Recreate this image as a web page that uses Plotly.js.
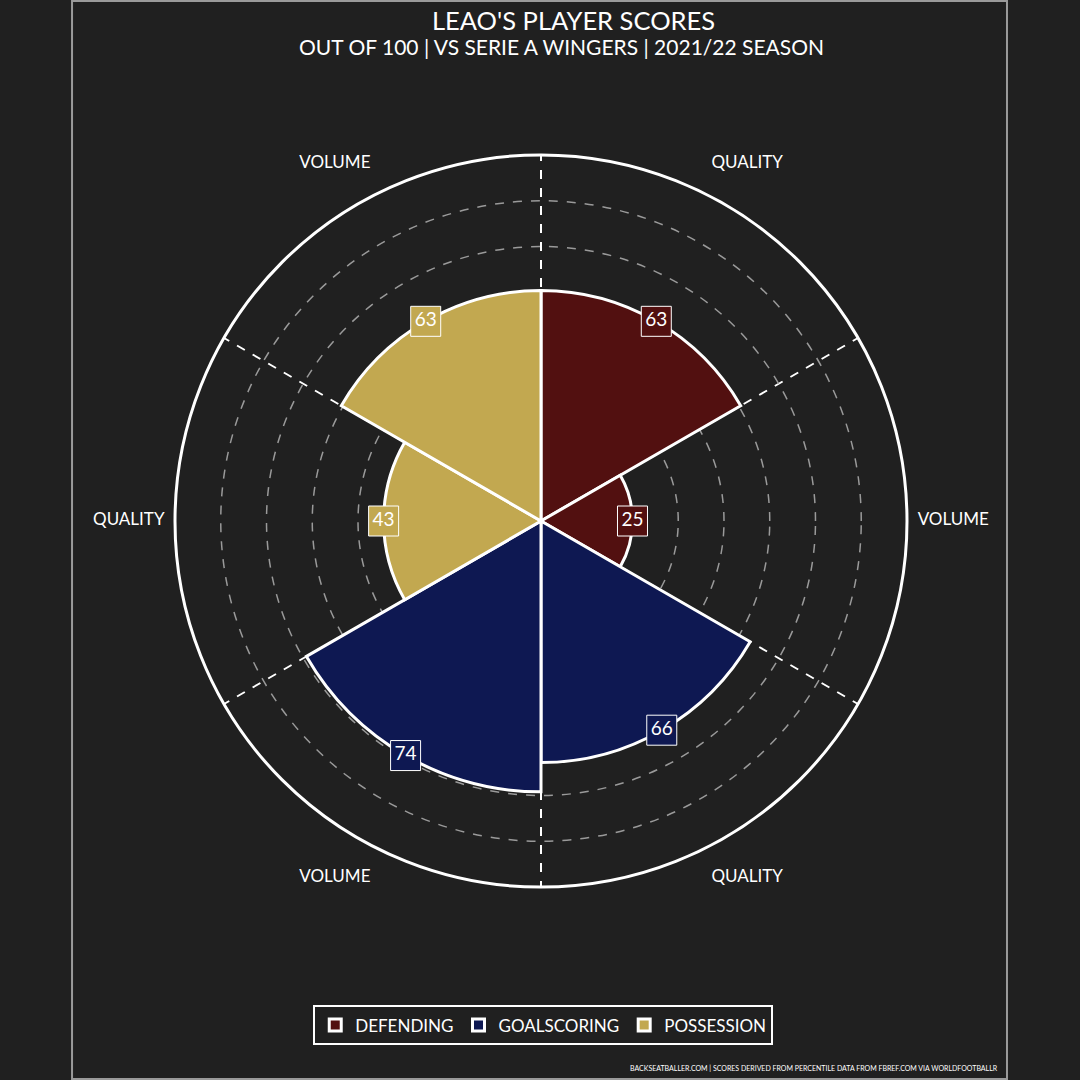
<!DOCTYPE html>
<html>
<head>
<meta charset="utf-8">
<script src="https://cdn.plot.ly/plotly-3.0.1.min.js"></script>
<style>
  html, body { margin: 0; padding: 0; background: #202020; }
  #graph { width: 1080px; height: 1080px; }
</style>
</head>
<body>
<div id="graph"></div>
<script>
// scores out of 100, order: quality, volume
var groups = ['DEFENDING', 'GOALSCORING', 'POSSESSION'];
var metrics = ['QUALITY', 'VOLUME'];
var defending = [63, 25];
var goalscoring = [66, 74];
var possession = [43, 63];

// angular centre of each wedge (clockwise from top)
var defendingTheta = [30, 90];
var goalscoringTheta = [150, 210];
var possessionTheta = [270, 330];

var colours = ['#521010', '#0e1852', '#c2a850'];
var series = [defending, goalscoring, possession];
var thetas = [defendingTheta, goalscoringTheta, possessionTheta];

var labelR = 112.6;
var font = 'Lato, "Open Sans", sans-serif';

var data = [];

// wedges
for (var i = 0; i < groups.length; i++) {
  data.push({
    type: 'barpolar',
    name: groups[i],
    r: series[i],
    theta: thetas[i],
    width: [60, 60],
    marker: { color: colours[i], line: { color: '#ffffff', width: 3 } },
    hoverinfo: 'skip'
  });
}

// value boxes
for (var i = 0; i < groups.length; i++) {
  data.push({
    type: 'scatterpolar',
    mode: 'markers+text',
    r: series[i],
    theta: thetas[i],
    text: series[i].map(String),
    textposition: 'middle center',
    textfont: { family: font, size: 19, color: '#ffffff' },
    marker: { symbol: 'square', size: 30, color: colours[i], line: { color: '#ffffff', width: 1 } },
    showlegend: false,
    hoverinfo: 'skip'
  });
}

// QUALITY / VOLUME labels round the outside (on a wider, hidden polar)
var allTheta = defendingTheta.concat(goalscoringTheta, possessionTheta);
data.push({
  type: 'scatterpolar',
  subplot: 'polar2',
  mode: 'text',
  r: allTheta.map(function () { return labelR; }),
  theta: allTheta,
  text: allTheta.map(function (t, k) { return metrics[k % 2]; }),
  textfont: { family: font, size: 17, color: '#ffffff' },
  showlegend: false,
  hoverinfo: 'skip'
});

var layout = {
  width: 1080,
  height: 1080,
  paper_bgcolor: '#202020',
  plot_bgcolor: '#202020',
  margin: { l: 0, r: 0, t: 0, b: 0 },
  font: { family: font, color: '#ffffff' },
  polar: {
    domain: { x: [0.16204, 0.83981], y: [0.17870, 0.85648] },
    bgcolor: '#202020',
    bargap: 0,
    radialaxis: {
      range: [0, 100],
      tickvals: [12.5, 25, 37.5, 50, 62.5, 75, 87.5],
      showticklabels: false,
      ticks: '',
      showline: false,
      gridcolor: '#9a9a9a',
      griddash: 'dash',
      gridwidth: 1.5,
      layer: 'below traces'
    },
    angularaxis: {
      rotation: 90,
      direction: 'clockwise',
      tick0: 0,
      dtick: 60,
      showticklabels: false,
      ticks: '',
      showline: true,
      linecolor: '#ffffff',
      linewidth: 3,
      gridcolor: '#ffffff',
      griddash: 'dash',
      gridwidth: 2,
      layer: 'below traces'
    }
  },
  polar2: {
    domain: { x: [0.0602, 0.9417], y: [0.0769, 0.9583] },
    bgcolor: 'rgba(0,0,0,0)',
    radialaxis: { range: [0, 130], visible: false },
    angularaxis: { rotation: 90, direction: 'clockwise', visible: false }
  },
  showlegend: true,
  legend: {
    orientation: 'h',
    x: 0.503,
    xanchor: 'center',
    y: 0.069,
    yanchor: 'top',
    bgcolor: '#202020',
    bordercolor: '#ffffff',
    borderwidth: 2,
    font: { family: font, size: 17, color: '#ffffff' }
  },
  shapes: [{
    type: 'rect', xref: 'paper', yref: 'paper',
    x0: 0.0667, x1: 0.9324, y0: 0.001, y1: 0.999,
    line: { color: '#9a9a9a', width: 2 }
  }],
  annotations: [{
    text: "LEAO'S PLAYER SCORES",
    xref: 'paper', yref: 'paper',
    x: 0.5306, y: 0.9815, xanchor: 'center', yanchor: 'middle',
    showarrow: false,
    font: { family: font, size: 25.5, color: '#ffffff' }
  }, {
    text: 'OUT OF 100 | VS SERIE A WINGERS | 2021/22 SEASON',
    xref: 'paper', yref: 'paper',
    x: 0.5199, y: 0.9565, xanchor: 'center', yanchor: 'middle',
    showarrow: false,
    font: { family: font, size: 21, color: '#ffffff' }
  }, {
    text: 'BACKSEATBALLER.COM | SCORES DERIVED FROM PERCENTILE DATA FROM FBREF.COM VIA WORLDFOOTBALLR',
    xref: 'paper', yref: 'paper',
    x: 0.926, y: 0.011,
    xanchor: 'right', yanchor: 'middle',
    showarrow: false,
    font: { family: font, size: 7, color: '#ffffff' }
  }]
};

Plotly.newPlot('graph', data, layout, { displayModeBar: false, staticPlot: true });
</script>
</body>
</html>
